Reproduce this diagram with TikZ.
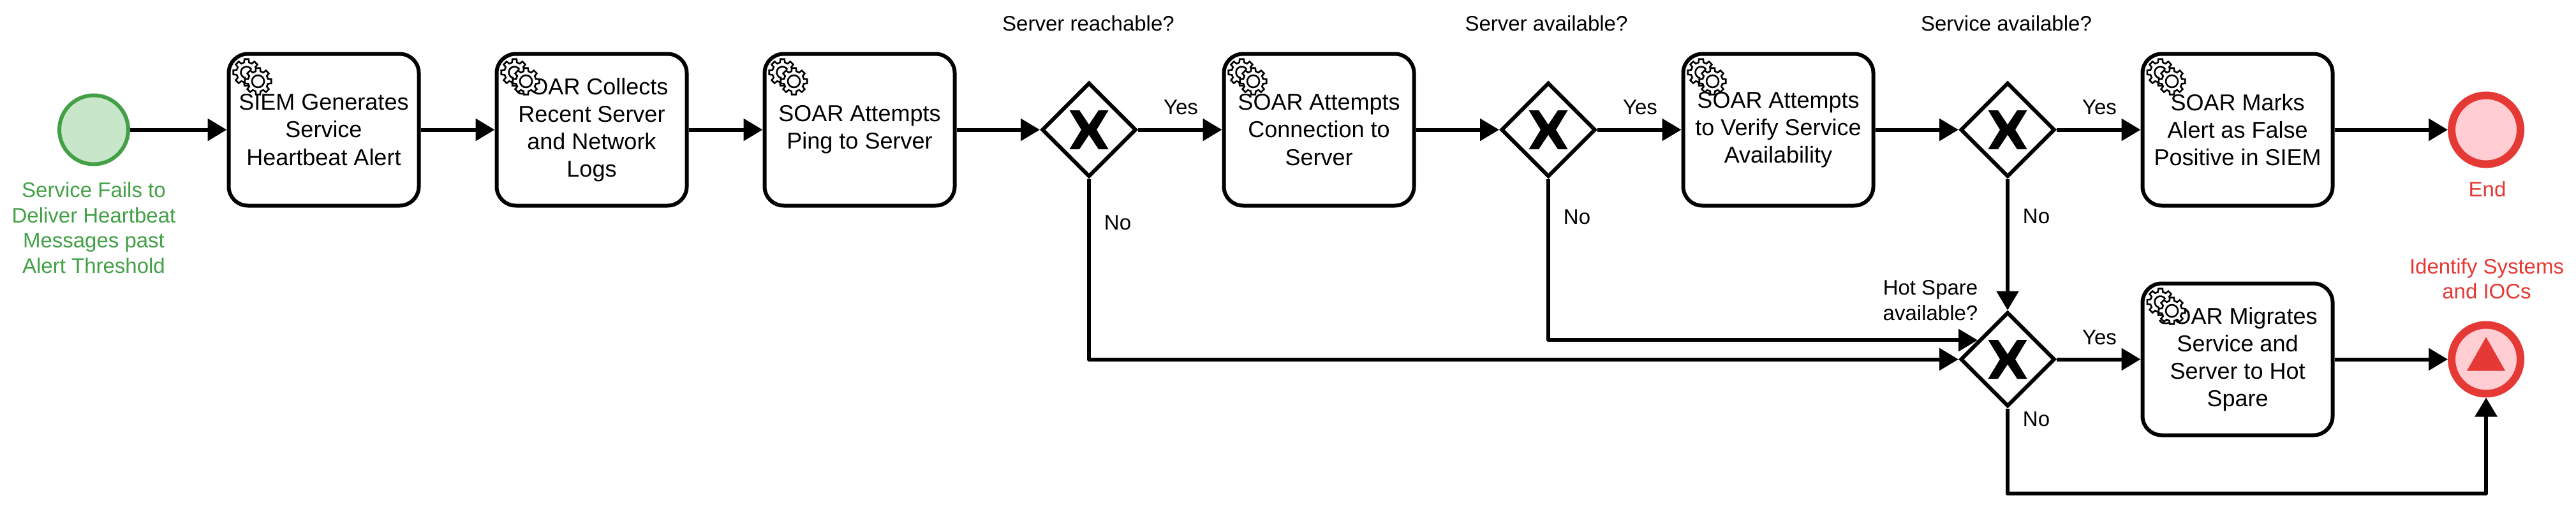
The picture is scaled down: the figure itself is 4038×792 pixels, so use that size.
\documentclass[tikz,border=0pt]{standalone}
\usepackage{fontspec}
\setmainfont{Liberation Sans}
\usetikzlibrary{arrows.meta,shapes.geometric,calc}
\definecolor{evgreen}{HTML}{43A047}
\definecolor{evgreenfill}{HTML}{C8E6C9}
\definecolor{evred}{HTML}{E53935}
\definecolor{evredfill}{HTML}{FFCDD2}
\newcommand{\gearshape}{(-9:21) \foreach \a in {0,45,...,315}{ -- (\a+9:21) -- (\a+14:16) -- (\a+31:16) -- (\a+36:21) } -- cycle}
\tikzset{
  task/.style={draw=black,fill=white,line width=6pt,rectangle,rounded corners=30pt,minimum width=298pt,minimum height=238pt,inner sep=0pt,align=center,font=\fontsize{36}{43.2}\selectfont},
  gate/.style={draw=black,fill=white,line width=6pt,diamond,minimum width=148pt,minimum height=148pt,inner sep=0pt},
  startev/.style={circle,draw=evgreen,fill=evgreenfill,line width=6pt,minimum size=108pt,inner sep=0pt},
  endev/.style={circle,draw=evred,fill=evredfill,line width=12pt,minimum size=108pt,inner sep=0pt},
  lab/.style={inner sep=0pt,align=center,font=\fontsize{33}{39.6}\selectfont},
  flow/.style={line width=6pt,draw=black,line join=round,-{Triangle[length=30pt,width=34pt]}},
  gearline/.style={draw=black,fill=white,line width=2.6pt,line join=miter},
  xmark/.pic={
    \fill[black] (-30.5,-30.5) -- (-15,-30.5) -- (0,-8) -- (15,-30.5) -- (30.5,-30.5) -- (12,0) -- (30.5,30.5) -- (15,30.5) -- (0,8) -- (-15,30.5) -- (-30.5,30.5) -- (-12,0) -- cycle;
  },
  gearicon/.pic={
    \begin{scope}[shift={(31,32)}]
      \draw[gearline] \gearshape;
      \draw[line width=2.6pt] (100:9) arc[start angle=100,end angle=330,radius=9];
    \end{scope}
    \begin{scope}[shift={(49,46)}]
      \draw[gearline] \gearshape;
      \draw[line width=2.6pt] (0,0) circle[radius=9.5];
    \end{scope}
  }
}
\begin{document}
\begin{tikzpicture}[x=1pt,y=-1pt]
\useasboundingbox (0,0) rectangle (4038,792);
% events
\node[startev] (st) at (147,203.5) {};
\node[endev] (e1) at (3897,203.5) {};
\node[endev] (e2) at (3897,563.5) {};
\fill[evred] ([shift={(0,-35)}]e2.center) -- ([shift={(30,18)}]e2.center) -- ([shift={(-30,18)}]e2.center) -- cycle;
% tasks
\node[task] (t1) at (507.5,203.5) {SIEM Generates\\Service\\Heartbeat Alert};
\node[task] (t2) at (927.5,203.5) {SOAR Collects\\Recent Server\\and Network\\Logs};
\node[task] (t3) at (1347.5,203.5) {SOAR Attempts\\Ping to Server};
\node[task] (t4) at (2067.5,203.5) {SOAR Attempts\\Connection to\\Server};
\node[task] (t5) at (2787.5,203.5) {SOAR Attempts\\to Verify Service\\Availability};
\node[task] (t6) at (3507.5,203.5) {SOAR Marks\\Alert as False\\Positive in SIEM};
\node[task] (t7) at (3507.5,563.5) {SOAR Migrates\\Service and\\Server to Hot\\Spare};
% gateways
\node[gate] (g1) at (1707,203.5) {};
\node[gate] (g2) at (2427,203.5) {};
\node[gate] (g3) at (3147,203.5) {};
\node[gate] (g4) at (3147,563.5) {};
\foreach \g in {g1,g2,g3,g4}{ \pic at (\g.center) {xmark}; }
\foreach \t in {t1,t2,t3,t4,t5,t6,t7}{ \pic at (\t.north west) {gearicon}; }
% connector helpers
\coordinate (hs) at ($(g4.west)!0.39!(g4.north)$);
\coordinate (low) at (3147,774);
% connectors
\draw[flow] (st) -- (t1);
\draw[flow] (t1) -- (t2);
\draw[flow] (t2) -- (t3);
\draw[flow] (t3) -- (g1);
\draw[flow] (g1) -- (t4);
\draw[flow] (t4) -- (g2);
\draw[flow] (g2) -- (t5);
\draw[flow] (t5) -- (g3);
\draw[flow] (g3) -- (t6);
\draw[flow] (t6) -- (e1);
\draw[flow] (g4) -- (t7);
\draw[flow] (t7) -- (e2);
\draw[flow] (g3.south) -- (g4.north);
\draw[flow] (g1.south) |- (g4.west);
\draw[flow] (g2.south) |- (hs);
\draw[flow] (g4.south) -- (low) -| (e2.south);
% labels
\node[lab,text=evgreen] (lst) at (147,357) {Service Fails to\\Deliver Heartbeat\\Messages past\\Alert Threshold};
\node[lab,text=evred] (le1) at (3899,297) {End};
\node[lab,text=evred] (le2) at (3898,437) {Identify Systems\\and IOCs};
\node[lab] (q1) at (1706,37) {Server reachable?};
\node[lab] (q2) at (2424,37) {Server available?};
\node[lab] (q3) at (3145,37) {Service available?};
\node[lab] (q4) at (3026,471) {Hot Spare\\available?};
\node[lab] (y1) at (1851,168) {Yes};
\node[lab] (y2) at (2571,168) {Yes};
\node[lab] (y3) at (3291,168) {Yes};
\node[lab] (y4) at (3291,529) {Yes};
\node[lab] (n1) at (1752,349) {No};
\node[lab] (n2) at (2472,340) {No};
\node[lab] (n3) at (3192,339) {No};
\node[lab] (n4) at (3192,657) {No};
\end{tikzpicture}
\end{document}
